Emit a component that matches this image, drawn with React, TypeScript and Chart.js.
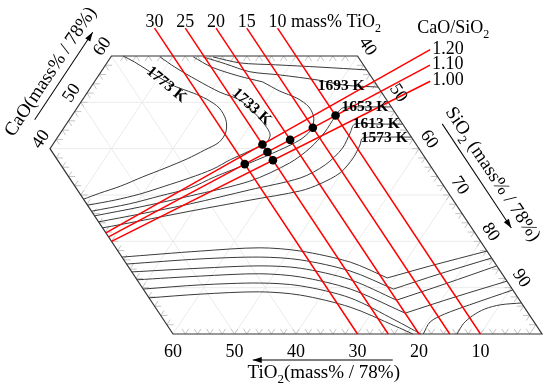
import { useEffect, useRef } from 'react';
import { Chart, registerables } from 'chart.js';

Chart.register(...registerables);

// ---------------- data (all in mass% / 78%) ----------------
// constant-TiO2 red lines
const TIO2_LINES = [30, 25, 20, 15, 10];
const TIO2_LINE_LABELS = ['30', '25', '20', '15', '10'];
const TIO2_LINE_TOP_CAO = 66;
// constant CaO/SiO2 red lines
const RATIO_LINES = [1.2, 1.1, 1.0];
const RATIO_LABELS = ['1.20', '1.10', '1.00'];
const RATIO_LINE_START_TIO2 = 60;
const RATIO_LINE_END_TIO2 = [-12.5, -10.8, -9.1];
// black experimental points: TiO2 and CaO/SiO2
const POINT_TIO2 = [30, 25, 25, 25, 20, 15, 10];
const POINT_RATIO = [1.1, 1.2, 1.1, 1.0, 1.1, 1.1, 1.1];
// axis tick labels
const TIO2_TICKS = [60, 50, 40, 30, 20, 10];
const CAO_TICKS = [40, 50, 60];
const SIO2_TICKS = [40, 50, 60, 70, 80, 90];

// isotherms as [CaO, TiO2] pairs
const ISO_1773: number[][] = [[60, 38.1], [58.7, 36.9], [57.0, 35.7], [55.3, 34.5], [53.5, 33.0], [52.0, 30.7], [50.7, 29.2], [48.8, 28.1], [46.2, 28.3], [43.6, 29.6], [41.4, 31.8], [39.7, 35.0], [37.8, 38.8], [35.8, 43.4], [33.9, 48.0], [31.9, 52.6], [30.4, 56.7], [29.1, 60]];
const ISO_1733: number[][] = [[59.8, 32.2], [57.6, 30.9], [54.8, 28.7], [52.2, 26.3], [50.5, 23.9], [47.7, 22.9], [45.1, 22.5], [43.0, 22.7], [41.2, 24.3], [39.5, 27.8], [37.6, 31.9], [35.6, 35.7], [33.7, 40.4], [31.9, 45.4], [30.2, 50.3], [28.9, 55.0], [27.8, 60]];
const ISO_1693_LOWER: number[][] = [[59.8, 26.8], [57.6, 24.9], [55.7, 21.5], [54.4, 18.2], [52.4, 16.4], [50.9, 14.4], [49.0, 13.4], [46.6, 13.8], [44.0, 15.6], [41.9, 18.4], [39.7, 22.8], [36.9, 29.1], [33.9, 36.3], [31.5, 41.5], [29.8, 47.2], [28.1, 53.0], [26.5, 60]];
const ISO_1693_UPPER: number[][] = [[59.8, 25.2], [58.3, 22.3], [56.6, 19.2], [55.9, 14.6], [54.8, 9.0], [53.7, 5.2], [53.3, 0]];
const ISO_TOP: number[][] = [[59.8, 23.6], [58.5, 19.8], [58.1, 14.3], [57.6, 7.3], [57.0, 0]];
const ISO_1653: number[][] = [[25.5, 60], [27.4, 51.7], [29.8, 42.3], [33.0, 31.0], [36.9, 22.6], [40.1, 17.7], [43.6, 13.5], [46.8, 10.3], [48.8, 8.0], [49.0, 4.3], [49.0, 0]];
const ISO_1613: number[][] = [[24.2, 60], [25.9, 52.4], [28.1, 43.1], [31.1, 32.0], [33.7, 22.4], [36.5, 17.0], [40.1, 12.4], [43.4, 9.5], [45.3, 7.8], [45.3, 3.7], [45.3, 0]];
const ISO_1573: number[][] = [[22.9, 60], [24.4, 53.2], [26.5, 44.0], [28.9, 33.0], [30.9, 23.8], [32.4, 19.9], [34.8, 15.4], [38.0, 11.7], [40.8, 9.2], [42.3, 8.0], [42.5, 3.5], [42.5, 0]];
const LOW_1: number[][] = [[16.6, 60], [17.9, 46.6], [18.6, 36.6], [17.9, 30.3], [15.5, 23.4], [12.1, 19.1], [14.7, 10.8], [17.9, 0]];
const LOW_2: number[][] = [[15.1, 60], [16.2, 47.5], [16.6, 37.6], [16.0, 31.3], [13.6, 24.4], [9.7, 19.3], [13.0, 10.1], [16.4, 0]];
const LOW_3: number[][] = [[13.4, 60], [14.2, 48.5], [14.7, 38.5], [14.2, 32.2], [11.7, 25.3], [7.3, 20.0], [10.8, 10.4], [14.7, 0]];
const LOW_4: number[][] = [[11.7, 60], [12.5, 49.3], [13.0, 39.4], [12.3, 33.1], [9.7, 26.3], [4.5, 20.0], [8.0, 10.1], [11.4, 0]];
const LOW_5: number[][] = [[9.7, 60], [10.6, 50.3], [11.0, 40.4], [10.4, 34.1], [7.8, 27.3], [3.0, 22.4], [0, 19.7]];
const LOW_6: number[][] = [[7.8, 60], [8.6, 51.3], [9.1, 41.4], [8.4, 35.1], [5.8, 28.3], [1.7, 23.0], [0, 21.0]];
const LOW_R1: number[][] = [[0, 19.3], [2.6, 16.9], [4.3, 13.7], [6.3, 8.6], [9.5, 0]];
const LOW_R2: number[][] = [[0, 13.8], [2.2, 11.7], [3.9, 9.4], [5.4, 6.6], [6.3, 3.6], [6.7, 0]];

// isotherm labels
const ISO_LABELS = ['1773 K', '1733 K', '1693 K', '1653 K', '1613 K', '1573 K'];
const ISO_LABEL_CAO = [54.0, 49.2, 53.7, 49.2, 45.5, 42.5];
const ISO_LABEL_TIO2 = [34.0, 22.5, 5.8, 4.2, 4.2, 4.4];

// ---------------- layout / style ----------------
const ISO_LABEL_ANGLE = [40, 42, 0, 0, 0, 0];
const CONTOURS: [number[][], number[]][] = [
  [ISO_1773, []], [ISO_1733, []], [ISO_1693_LOWER, [3]], [ISO_1693_UPPER, []], [ISO_TOP, []],
  [ISO_1653, []], [ISO_1613, []], [ISO_1573, []],
  [LOW_1, [5]], [LOW_2, [5]], [LOW_3, [5]], [LOW_4, [5]], [LOW_5, []], [LOW_6, []], [LOW_R1, []], [LOW_R2, []],
];
const FONT = '"Liberation Serif", "Times New Roman", Times, serif';
const RED = '#ff0000';
const ISO_COLOR = '#3a3a3a';

const toXY = (c: number, t: number) => ({ x: 100 - t - c / 2, y: c });

function splitAt(pts: number[][], kinks: number[]) {
  const out: number[][][] = [];
  let start = 0;
  for (const k of kinks) { out.push(pts.slice(start, k + 1)); start = k; }
  out.push(pts.slice(start));
  return out;
}

type Part = [string, boolean];
function drawParts(ctx: CanvasRenderingContext2D, parts: Part[], x: number, y: number, size: number, align: 'left' | 'center', weight = '') {
  const big = `${weight}${size}px ${FONT}`;
  const small = `${weight}${Math.round(size * 0.66)}px ${FONT}`;
  let w = 0;
  for (const [t, sub] of parts) { ctx.font = sub ? small : big; w += ctx.measureText(t).width; }
  let cx = align === 'center' ? x - w / 2 : x;
  ctx.textAlign = 'left';
  ctx.textBaseline = 'alphabetic';
  for (const [t, sub] of parts) {
    ctx.font = sub ? small : big;
    ctx.fillText(t, cx, sub ? y + size * 0.28 : y);
    cx += ctx.measureText(t).width;
  }
}

function arrow(ctx: CanvasRenderingContext2D, x1: number, y1: number, x2: number, y2: number) {
  const a = Math.atan2(y2 - y1, x2 - x1);
  ctx.beginPath(); ctx.moveTo(x1, y1); ctx.lineTo(x2, y2); ctx.stroke();
  ctx.beginPath();
  ctx.moveTo(x2, y2);
  ctx.lineTo(x2 - 9 * Math.cos(a) + 3 * Math.sin(a), y2 - 9 * Math.sin(a) - 3 * Math.cos(a));
  ctx.lineTo(x2 - 9 * Math.cos(a) - 3 * Math.sin(a), y2 - 9 * Math.sin(a) + 3 * Math.cos(a));
  ctx.closePath(); ctx.fill();
}

const ternaryPlugin = {
  id: 'ternaryDecor',
  beforeDatasetsDraw(chart: any) {
    const { ctx } = chart;
    const xs = chart.scales.x, ys = chart.scales.y;
    const P = (c: number, t: number) => [xs.getPixelForValue(100 - t - c / 2), ys.getPixelForValue(c)];
    const seg = (a: number[], b: number[]) => { ctx.beginPath(); ctx.moveTo(a[0], a[1]); ctx.lineTo(b[0], b[1]); ctx.stroke(); };
    ctx.save();
    ctx.lineWidth = 1;
    ctx.strokeStyle = '#ebebeb';
    for (let v = 10; v <= 50; v += 10) {
      seg(P(v, 0), P(v, Math.min(60, 100 - v)));
      seg(P(0, v), P(Math.min(60, 100 - v), v));
    }
    for (let s = 10; s <= 90; s += 10) {
      const lo = Math.max(0, 40 - s), hi = Math.min(60, 100 - s);
      seg(P(lo, 100 - s - lo), P(hi, 100 - s - hi));
    }
    const d = 1.1;
    ctx.strokeStyle = '#c4c4c4';
    for (let v = 2; v < 60; v += 2) {
      seg(P(0, v), P(d, v)); seg(P(0, v), P(d, v - d));
      seg(P(v, 0), P(v, d)); seg(P(v, 0), P(v - d, d));
      if (v < 40) {
        seg(P(v, 60), P(v, 60 - d)); seg(P(v, 60), P(v + d, 60 - d));
        seg(P(60, v), P(60 - d, v)); seg(P(60, v), P(60 - d, v + d));
      }
      if (v > 40) {
        seg(P(v, 100 - v), P(v, 100 - v - d)); seg(P(v, 100 - v), P(v - d, 100 - v));
      }
    }
    ctx.strokeStyle = '#333';
    ctx.lineWidth = 1.2;
    const frame = [P(60, 40), P(60, 0), P(0, 0), P(0, 60), P(40, 60)];
    ctx.beginPath();
    frame.forEach((p, i) => (i ? ctx.lineTo(p[0], p[1]) : ctx.moveTo(p[0], p[1])));
    ctx.closePath();
    ctx.stroke();
    ctx.restore();
  },
  afterDatasetsDraw(chart: any) {
    const { ctx } = chart;
    const xs = chart.scales.x, ys = chart.scales.y;
    const P = (c: number, t: number) => [xs.getPixelForValue(100 - t - c / 2), ys.getPixelForValue(c)];
    ctx.save();
    ctx.fillStyle = '#000';
    ctx.strokeStyle = '#000';
    ctx.lineWidth = 1;

    // TiO2 line labels on top
    TIO2_LINES.forEach((t, i) => {
      const [px, py] = P(TIO2_LINE_TOP_CAO, t);
      const lab = TIO2_LINE_LABELS[i];
      drawParts(ctx, [[lab, false]], px, py - 1, 18, 'center');
      if (i === TIO2_LINES.length - 1) {
        ctx.font = `18px ${FONT}`;
        const w = ctx.measureText(lab).width;
        drawParts(ctx, [[' mass% TiO', false], ['2', true]], px + w / 2, py - 1, 18, 'left');
      }
    });

    // ratio labels
    RATIO_LINES.forEach((r, i) => {
      const t = RATIO_LINE_END_TIO2[i];
      const [px, py] = P((100 - t) * r / (1 + r), t);
      drawParts(ctx, [[RATIO_LABELS[i], false]], px + 2, py + 4, 18, 'left');
      if (i === 0) drawParts(ctx, [['CaO/SiO', false], ['2', true]], px - 13, py - 17, 18, 'left');
    });

    // bottom TiO2 ticks + title
    TIO2_TICKS.forEach((t) => {
      const [px, py] = P(0, t);
      drawParts(ctx, [[String(t), false]], px, py + 23, 18, 'center');
    });
    {
      const [px, py] = P(0, 35);
      drawParts(ctx, [['TiO', false], ['2', true], ['(mass% / 78%)', false]], px - 3, py + 44, 19, 'center');
      arrow(ctx, px + 66, py + 26, px - 74, py + 26);
    }

    // CaO side (S = 0 edge)
    {
      const a = P(40, 60), b = P(60, 40);
      const ang = Math.atan2(b[1] - a[1], b[0] - a[0]);
      CAO_TICKS.forEach((c) => {
        const [px, py] = P(c, 100 - c);
        ctx.save(); ctx.translate(px - 10, py - 10); ctx.rotate(ang);
        drawParts(ctx, [[String(c), false]], 0, 6, 18, 'center');
        ctx.restore();
      });
      const [bx, by] = P(50, 50);
      ctx.save(); ctx.translate(bx - 29, by - 30); ctx.rotate(ang);
      drawParts(ctx, [['CaO(mass% / 78%)', false]], 0, 4, 19, 'center');
      arrow(ctx, -49, 12, 56, 12);
      ctx.restore();
    }

    // SiO2 side (T = 0 edge)
    {
      const a = P(60, 0), b = P(0, 0);
      const ang = Math.atan2(b[1] - a[1], b[0] - a[0]);
      SIO2_TICKS.forEach((s) => {
        const [px, py] = P(100 - s, 0);
        ctx.save(); ctx.translate(px + 11, py - 10); ctx.rotate(ang);
        drawParts(ctx, [[String(s), false]], 0, 6, 18, 'center');
        ctx.restore();
      });
      const [bx, by] = P(30, 0);
      ctx.save(); ctx.translate(bx + 42, by - 20); ctx.rotate(ang);
      drawParts(ctx, [['SiO', false], ['2', true], [' (mass% / 78%)', false]], 0, 4, 19, 'center');
      arrow(ctx, -70, 13, 55, 13);
      ctx.restore();
    }

    // isotherm labels
    ISO_LABELS.forEach((lab, i) => {
      const [px, py] = P(ISO_LABEL_CAO[i], ISO_LABEL_TIO2[i]);
      ctx.save(); ctx.translate(px, py); ctx.rotate((ISO_LABEL_ANGLE[i] * Math.PI) / 180);
      drawParts(ctx, [[lab, false]], 0, 5, 15.5, 'center', 'bold ');
      ctx.restore();
    });
    ctx.restore();
  },
};

function buildDatasets() {
  const ds: any[] = [];
  ds.push({
    label: 'points',
    data: POINT_TIO2.map((t, i) => {
      const r = POINT_RATIO[i];
      return toXY(((100 - t) * r) / (1 + r), t);
    }),
    showLine: false,
    pointRadius: 4.3,
    pointHoverRadius: 4.3,
    pointBackgroundColor: '#000',
    pointBorderColor: '#000',
    pointBorderWidth: 0,
    order: 0,
    clip: false,
  });
  TIO2_LINES.forEach((t) => {
    ds.push({
      data: [toXY(0, t), toXY(TIO2_LINE_TOP_CAO, t)],
      showLine: true, borderColor: RED, borderWidth: 1.5, pointRadius: 0, pointHoverRadius: 0,
      tension: 0, order: 1, clip: false,
    });
  });
  RATIO_LINES.forEach((r, i) => {
    const f = r / (1 + r);
    const t0 = RATIO_LINE_START_TIO2, t1 = RATIO_LINE_END_TIO2[i];
    ds.push({
      data: [toXY((100 - t0) * f, t0), toXY((100 - t1) * f, t1)],
      showLine: true, borderColor: RED, borderWidth: 1.5, pointRadius: 0, pointHoverRadius: 0,
      tension: 0, order: 1, clip: false,
    });
  });
  CONTOURS.forEach(([pts, kinks]) => {
    splitAt(pts, kinks).forEach((seg) => {
      ds.push({
        data: seg.map(([c, t]) => toXY(c, t)),
        showLine: true, borderColor: ISO_COLOR, borderWidth: 1, pointRadius: 0, pointHoverRadius: 0,
        tension: 0.3, order: 2, clip: false,
      });
    });
  });
  return ds;
}

export default function App() {
  const ref = useRef<HTMLCanvasElement>(null);
  useEffect(() => {
    const chart = new Chart(ref.current as HTMLCanvasElement, {
      type: 'scatter',
      data: { datasets: buildDatasets() },
      options: {
        animation: false,
        responsive: false,
        devicePixelRatio: 1,
        events: [],
        layout: { padding: { left: 50, right: 8, top: 56, bottom: 58 } },
        scales: {
          x: { type: 'linear', min: 20, max: 100, display: false },
          y: { type: 'linear', min: 0, max: 60, display: false },
        },
        plugins: { legend: { display: false }, tooltip: { enabled: false } },
      },
      plugins: [ternaryPlugin],
    } as any);
    return () => chart.destroy();
  }, []);
  return (
    <div style={{ position: 'absolute', left: 0, top: 0, width: 550, height: 392, background: '#fff' }}>
      <canvas ref={ref} width={550} height={392} style={{ display: 'block', width: 550, height: 392 }} />
    </div>
  );
}
